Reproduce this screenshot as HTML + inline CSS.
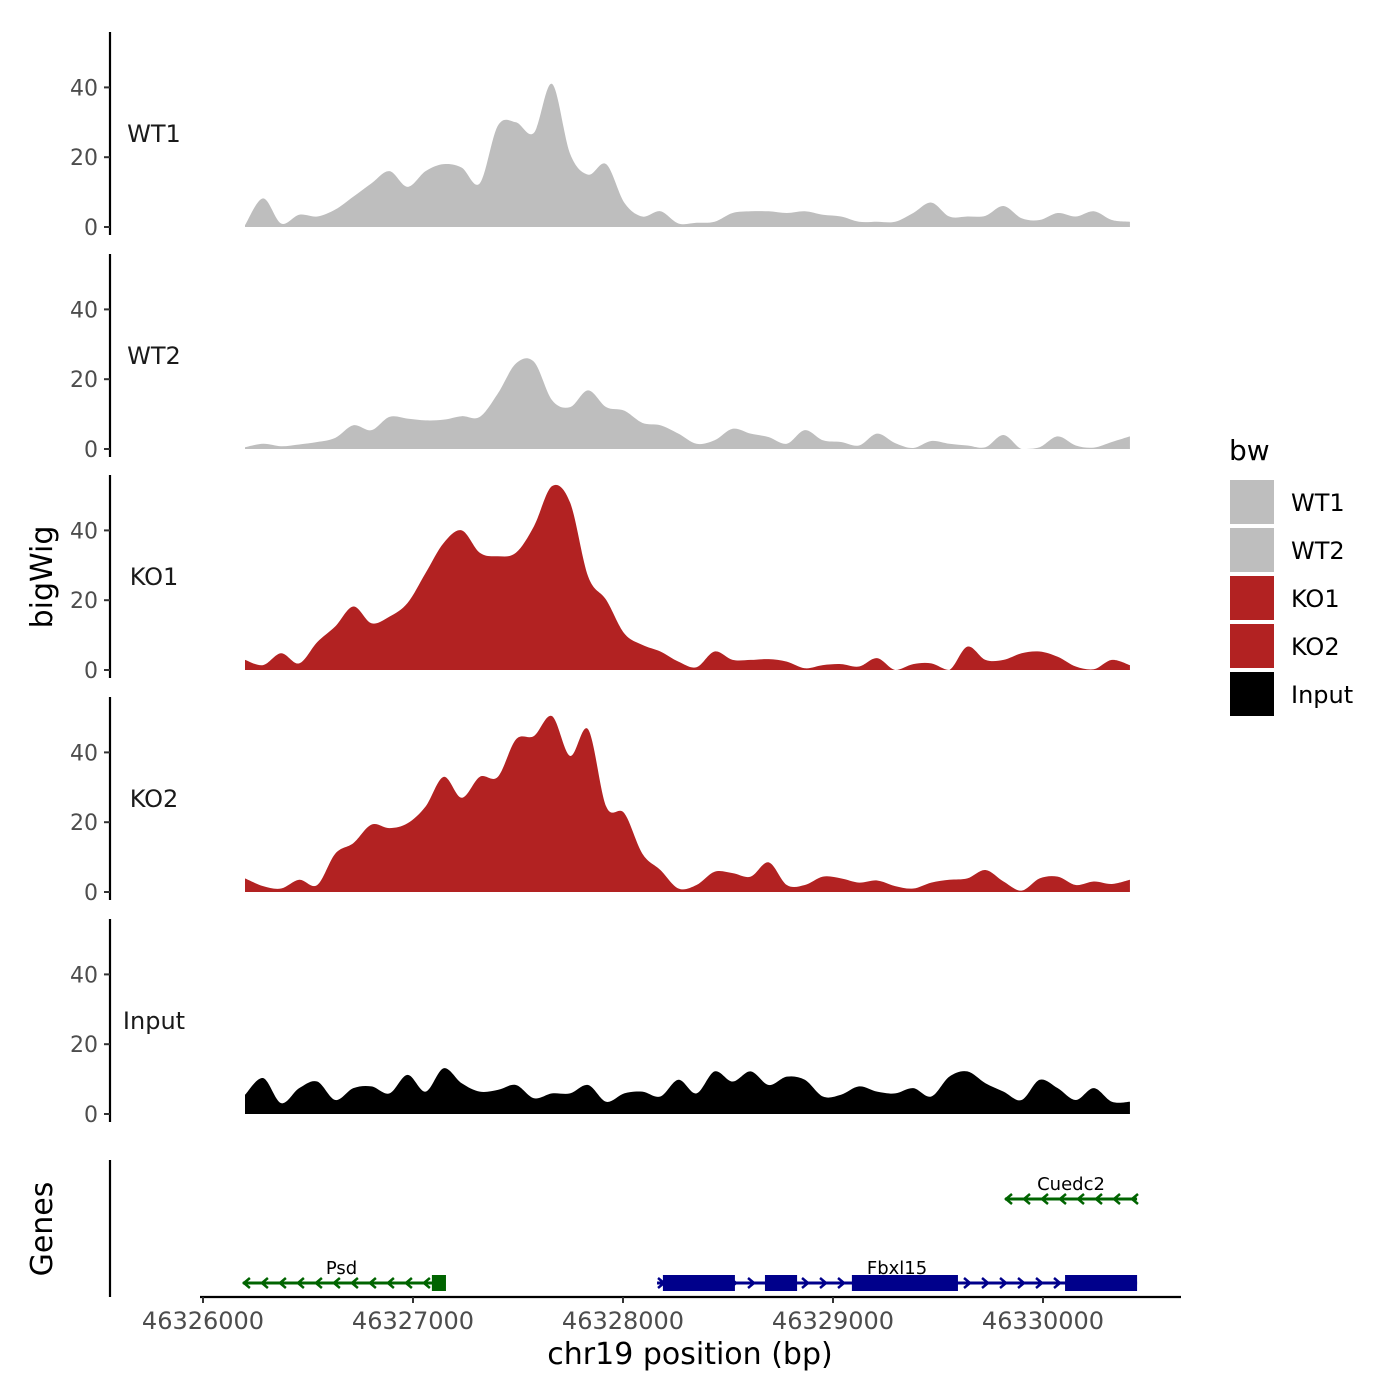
<!DOCTYPE html>
<html><head><meta charset="utf-8"><style>
body{margin:0;background:#fff}
svg{display:block;font-family:"DejaVu Sans","Liberation Sans",sans-serif}
</style></head><body>
<svg id="chart" width="1400" height="1400" viewBox="0 0 1400 1400" xmlns="http://www.w3.org/2000/svg">
<rect width="1400" height="1400" fill="#fff"/>
<g id="tracks"></g>
<g id="genes"></g>
<text transform="translate(52,577) rotate(-90)" text-anchor="middle" font-size="30">bigWig</text>
<text transform="translate(52,1229) rotate(-90)" text-anchor="middle" font-size="30">Genes</text>
<text x="690" y="1364" text-anchor="middle" font-size="30">chr19 position (bp)</text>
<g>
<text x="1229" y="460" font-size="28">bw</text>
<rect x="1230" y="480" width="44" height="44" fill="#bebebe"/>
<rect x="1230" y="528" width="44" height="44" fill="#bebebe"/>
<rect x="1230" y="576" width="44" height="44" fill="#b22222"/>
<rect x="1230" y="624" width="44" height="44" fill="#b22222"/>
<rect x="1230" y="672" width="44" height="44" fill="#000"/>
<text x="1291" y="511" font-size="24">WT1</text>
<text x="1291" y="559" font-size="24">WT2</text>
<text x="1291" y="607" font-size="24">KO1</text>
<text x="1291" y="655" font-size="24">KO2</text>
<text x="1291" y="703" font-size="24">Input</text>
</g>
</svg>
<script>
const positions = [46326200,46326286,46326372,46326458,46326544,46326630,46326716,46326802,46326888,46326974,46327060,46327146,46327232,46327318,46327404,46327490,46327576,46327662,46327748,46327834,46327920,46328006,46328092,46328178,46328264,46328350,46328436,46328522,46328608,46328694,46328780,46328866,46328952,46329038,46329124,46329210,46329296,46329382,46329468,46329554,46329640,46329726,46329812,46329898,46329984,46330070,46330156,46330242,46330328,46330414];
const trackNames = ["WT1","WT2","KO1","KO2","Input"];
const wt1 = [0.5,8.2,1,3.5,3,5,8.7,12.5,16,11.5,16,18,17,12.5,29,30,27,41,21,15,18,7,3,4.5,1,1.2,1.5,4,4.5,4.5,4,4.5,3.5,3,1.5,1.5,1.5,4,7,3,3,3.2,6,2.5,2,4,3,4.5,2,1.5];
const wt2 = [0.5,1.5,0.8,1.3,2,3.2,6.8,5.4,9.2,8.7,8.2,8.4,9.4,9.2,15.9,24.5,25,14,12,16.8,12,11,7.5,6.8,4.4,1.5,2.5,5.8,4.4,3.4,1.5,5.4,2.5,2,1,4.4,1.7,0.3,2.3,1.5,1,0.5,4,0,0.5,3.6,1,0.4,2,3.6];
const ko1 = [2.9,1.4,4.8,1.9,8,12.5,18.2,13.4,15.3,19.2,27.8,36.4,40,33.6,32.6,33.6,41.2,52.7,48,26.8,20.1,10.5,7.2,5.3,2.4,0.8,5.3,2.9,2.9,3.1,2.4,0.5,1.4,1.7,1,3.4,0,1.7,1.9,0,6.7,2.9,2.9,4.8,5.3,3.8,1,0.2,2.9,1.4];
const ko2 = [3.9,1.7,1,3.5,2,11,14,19.3,18.3,19.7,24.5,33,27,33,33,43.7,44.7,50.4,39,46.6,24.5,22.6,11,6.3,1,2,5.8,5.4,4.4,8.5,2,2,4.4,3.9,2.7,3.3,1.7,1,2.7,3.5,3.9,6.3,3,0.4,3.9,4.4,2,3,2.3,3.5];
const input = [5.5,10.3,3.1,7.4,9.3,4,7.4,7.9,5.9,11.2,6.4,13.1,8.8,6.4,6.9,8.3,4.5,5.9,5.9,8.3,3.5,5.9,6.4,5,9.8,5.9,12.2,9.3,12.2,8.3,10.7,9.8,5,5.5,7.9,6.4,5.9,7.4,5,10.7,12.2,8.8,6.4,4,9.8,7.4,4,7.4,3.5,3.5];
const yTicks = [0,20,40];
const xTicks = [46326000,46327000,46328000,46329000,46330000];
const xTickLabels = ["46326000","46327000","46328000","46329000","46330000"];
const geneNames = ["Psd","Fbxl15","Cuedc2"];
const geneStarts = [46326190,46328162,46329819];
const geneEnds = [46327129,46330448,46330448];
const geneStrand = [-1,1,-1];
const geneRow = [0,0,1];
const exonGene = [0,1,1,1,1];
const exonStarts = [46327090,46328190,46328676,46329090,46330105];
const exonEnds = [46327157,46328533,46328829,46329595,46330448];

const NS="http://www.w3.org/2000/svg";
const seriesList=[wt1,wt2,ko1,ko2,input];
const colors=["#bebebe","#bebebe","#b22222","#b22222","#000000"];
const xScale=bp=>203+(bp-46326000)*0.21;
const zeroYs=[227,449,670,892,1114];
const unit=3.49;
function mk(tag,attrs,parent){const e=document.createElementNS(NS,tag);for(const k in attrs)e.setAttribute(k,attrs[k]);parent.appendChild(e);return e;}
const tg=document.getElementById('tracks');
seriesList.forEach((vals,t)=>{
  const z=zeroYs[t];
  const yScale=v=>z-v*unit;
  const g=mk('g',{},tg);
  
  
  const pts=positions.map((p,i)=>[xScale(p),yScale(vals[i])]);
  let d=`M${pts[0][0]},${z}L${pts[0][0]},${pts[0][1]}`;
  for(let i=0;i<pts.length-1;i++){
    const p0=pts[Math.max(0,i-1)],p1=pts[i],p2=pts[i+1],p3=pts[Math.min(pts.length-1,i+2)];
    let c1y=p1[1]+(p2[1]-p0[1])/6,c2y=p2[1]-(p3[1]-p1[1])/6;
    c1y=Math.min(c1y,z);c2y=Math.min(c2y,z);
    d+=`C${p1[0]+(p2[0]-p0[0])/6},${c1y} ${p2[0]-(p3[0]-p1[0])/6},${c2y} ${p2[0]},${p2[1]}`;
  }
  d+=`L${pts[pts.length-1][0]},${z}Z`;
  const area=mk('path',{d:d,fill:colors[t]},g);
  
  
  const ax=mk('line',{x1:110,x2:110,y1:z-195,y2:z+8,stroke:'#000','stroke-width':2.2},g);
  
  
  yTicks.forEach(v=>{
    const tk=mk('line',{x1:104,x2:110,y1:yScale(v),y2:yScale(v),stroke:'#333','stroke-width':2},g);
    
    
    const tl=mk('text',{x:98,y:yScale(v)+8,'text-anchor':'end','font-size':22,fill:'#4d4d4d'},g);
    
    
    tl.textContent=v;
  });
  const lb=mk('text',{x:154,y:z-85,'text-anchor':'middle','font-size':24,fill:'#1a1a1a'},g);
  
  
  lb.textContent=trackNames[t];
});
// genes
const gg=document.getElementById('genes');
const gax=mk('line',{x1:110,x2:110,y1:1160,y2:1297,stroke:'#000','stroke-width':2.2},gg);


const xax=mk('line',{x1:200,x2:1181,y1:1297,y2:1297,stroke:'#000','stroke-width':2.2},gg);


xTicks.forEach((v,i)=>{
  const tk=mk('line',{x1:xScale(v),x2:xScale(v),y1:1297,y2:1303,stroke:'#333','stroke-width':2},gg);
  
  
  const tl=mk('text',{x:xScale(v),y:1329,'text-anchor':'middle','font-size':24,fill:'#4d4d4d'},gg);
  
  
  tl.textContent=xTickLabels[i];
});
const rowY=[1283,1199];
geneNames.forEach((n,i)=>{
  const col=geneStrand[i]<0?'#006400':'#00008b';
  const y=rowY[geneRow[i]];
  const x1=xScale(geneStarts[i]),x2=xScale(geneEnds[i]);
  const g=mk('g',{},gg);
  
  
  mk('line',{x1:x1,x2:x2,y1:y,y2:y,stroke:col,'stroke-width':3},g);
  for(let x=x1+4;x<x2-2;x+=18){
    const s=geneStrand[i];
    mk('path',{d:`M${x-s*3},${y-5}L${x+s*3},${y}L${x-s*3},${y+5}`,fill:'none',stroke:col,'stroke-width':2.5},g);
  }
  const tl=mk('text',{x:(x1+x2)/2,y:y-9,'text-anchor':'middle','font-size':18,fill:'#000'},g);
  
  
  tl.textContent=n;
});
exonStarts.forEach((s,i)=>{
  const gi=exonGene[i];
  const col=geneStrand[gi]<0?'#006400':'#00008b';
  const y=rowY[geneRow[gi]];
  const r=mk('rect',{x:xScale(s),y:y-8,width:xScale(exonEnds[i])-xScale(s),height:16,fill:col},gg);
  
  
});
</script>
</body></html>
